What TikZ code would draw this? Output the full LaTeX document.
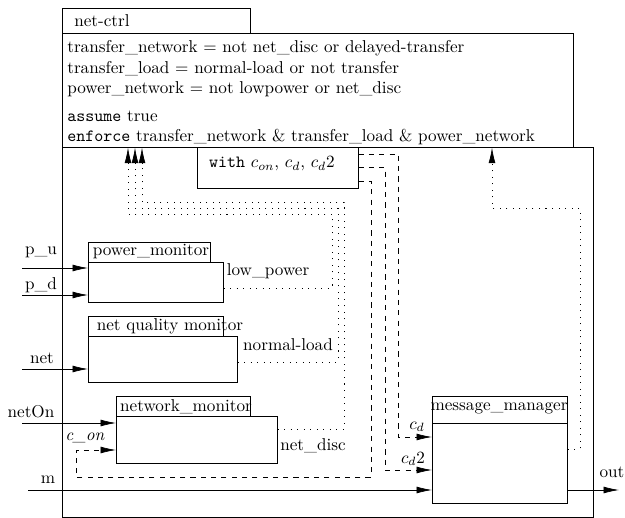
\documentclass[tikz,border=0pt]{standalone}
\usetikzlibrary{arrows.meta}
\begin{document}
\begin{tikzpicture}[x=0.583pt, y=-0.583pt,
  >={Latex[length=9pt,width=4pt]},
  blk/.style 2 args={draw, inner sep=0pt, anchor=north west,
    minimum width=#1*0.583pt, minimum height=#2*0.583pt},
  lbl/.style={inner sep=0pt},
  ctrlline/.style={dash pattern=on 0.6pt off 3.2pt},
  chan/.style={dashed}]
\useasboundingbox (0,0) rectangle (625,518);

% frames
\node[blk={531}{370}] (outer) at (62,147) {};
\node[blk={188}{25}] (ctrltab) at (62,8) {};
\node[blk={511}{114}] (ctrl) at (62,33) {};
\node[lbl, anchor=west] (ctrlname) at (74,21) {net-ctrl};
\node[lbl, anchor=north west, align=left] (ctrltext) at (67,40)
  {transfer\_network $=$ not net\_disc or delayed-transfer\\
   transfer\_load $=$ normal-load or not transfer\\
   power\_network $=$ not lowpower or net\_disc\\[4pt]
   \texttt{assume} true\\
   \texttt{enforce} transfer\_network \& transfer\_load \& power\_network};
\node[blk={161}{41}] (with) at (197,147) {};
\node[lbl] (withtext) at (272,164) {\texttt{with} $c_{on}$, $c_d$, $c_d2$};

% monitors
\node[blk={122}{20}] (pmtab) at (88,242) {};
\node[blk={135}{40}] (pm) at (88,262) {};
\node[lbl] (pmname) at (151,252) {power\_monitor};
\node[blk={135}{20}] (nqtab) at (88,316) {};
\node[blk={149}{46}] (nq) at (88,336) {};
\node[lbl] (nqname) at (170,326) {net quality monitor};
\node[blk={134}{20}] (nmtab) at (116,396) {};
\node[blk={161}{47}] (nm) at (116,416) {};
\node[lbl] (nmname) at (186,407) {network\_monitor};
\node[blk={135}{27}] (mmtab) at (432,396) {};
\node[blk={135}{80}] (mm) at (432,423) {};
\node[lbl] (mmname) at (499,408) {message\_manager};

% inputs
\coordinate (pu) at (22,268);
\coordinate (pd) at (22,295);
\coordinate (net) at (22,369);
\coordinate (neton) at (22,423);
\coordinate (m) at (28,490);
\coordinate (out) at (619,490);
\draw[->] (pu) -- (pm.west |- pu);
\draw[->] (pd) -- (pm.west |- pd);
\draw[->] (net) -- (nq.west |- net);
\draw[->] (neton) -- (nm.west |- neton);
\draw[->] (m) -- (mm.west |- m);
\draw[->] (mm.east |- out) -- (out);
\node[lbl] (pulbl) at (41,252) {p\_u};
\node[lbl] (pdlbl) at (41,285) {p\_d};
\node[lbl] (netlbl) at (42,358) {net};
\node[lbl] (netonlbl) at (31,412) {netOn};
\node[lbl] (mlbl) at (48,480) {m};
\node[lbl] (outlbl) at (612,472) {out};

% monitor outputs
\draw[ctrlline,->] (pm.east |- 0,288) -| (332,214) -| (ctrl.south -| 128,0);
\draw[ctrlline,->] (nq.east |- 0,362) -| (338,208) -| (ctrl.south -| 135,0);
\draw[ctrlline,->] (nm.east |- 0,429) -| (344,202) -| (ctrl.south -| 142,0);
\draw[ctrlline,->] (mm.east |- 0,449) -| (580,208) -| (ctrl.south -| 492,0);
\node[lbl] (lplbl) at (268,271) {low\_power};
\node[lbl] (nllbl) at (288,345) {normal-load};
\node[lbl] (ndlbl) at (313,446) {net\_disc};

% controls
\draw[chan,->] (with.east |- 0,154) -| (398,437) -- (mm.west |- 0,437);
\draw[chan,->] (with.east |- 0,167) -| (385,470) -- (mm.west |- 0,470);
\draw[chan,->] (with.east |- 0,181) -| (371,477) -| (76,450) -- (nm.west |- 0,450);
\node[lbl] (cdlbl) at (417,427) {$c_d$};
\node[lbl] (cd2lbl) at (413,459) {$c_d2$};
\node[lbl] (conlbl) at (85,438) {\textit{c\_on}};
\end{tikzpicture}
\end{document}
